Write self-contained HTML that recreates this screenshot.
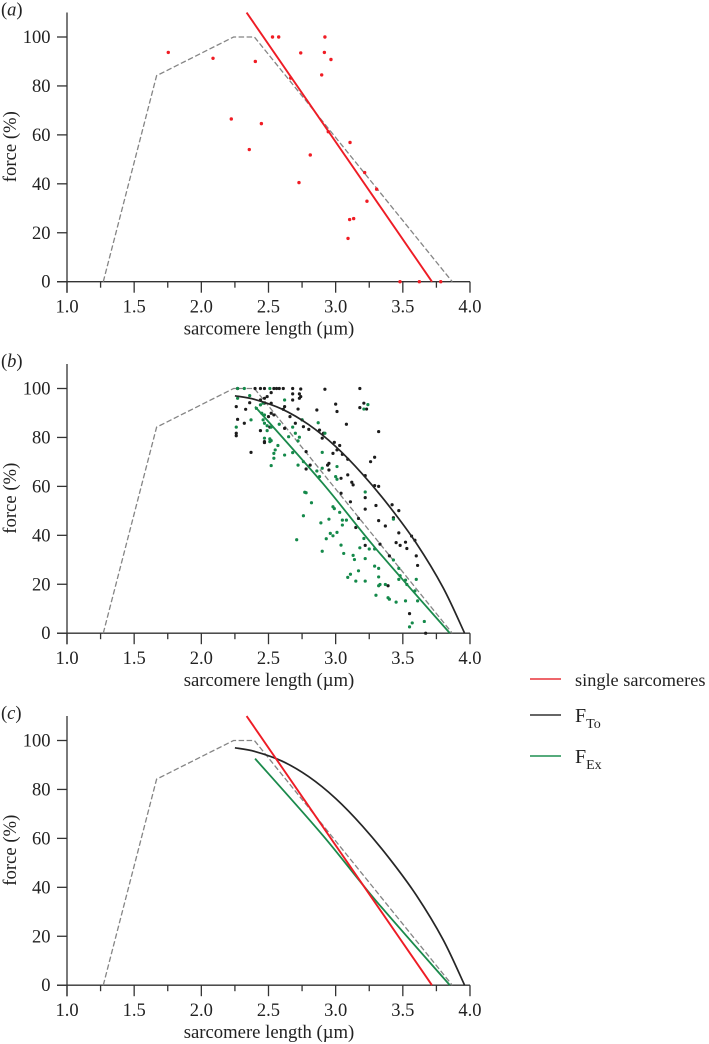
<!DOCTYPE html>
<html lang="en">
<head>
<meta charset="utf-8">
<title>Force versus sarcomere length</title>
<style>
html,body{margin:0;padding:0;background:#fff;}
body{width:709px;height:1044px;overflow:hidden;}
svg{display:block;}
text{font-family:"Liberation Serif",serif;fill:#222;}
</style>
</head>
<body>
<svg id="chart" xmlns="http://www.w3.org/2000/svg" width="709" height="1044" viewBox="0 0 709 1044">
  <g>
    <line x1="530" x2="561" y1="679" y2="679" stroke="#e8343a" stroke-width="1.4"/>
    <text x="575" y="686" font-size="18.3">single sarcomeres</text>
    <line x1="530" x2="561" y1="715" y2="715" stroke="#333" stroke-width="1.4"/>
    <text x="575" y="722" font-size="20">F<tspan font-size="14" dy="6">To</tspan></text>
    <line x1="530" x2="561" y1="756" y2="756" stroke="#1f8f50" stroke-width="1.4"/>
    <text x="575" y="763" font-size="20">F<tspan font-size="14" dy="6">Ex</tspan></text>
  </g>
</svg>
<script>
// ---- chart data ----
const xTicks = [1.0, 1.5, 2.0, 2.5, 3.0, 3.5, 4.0];
const xMinorTicks = [1.25, 1.75, 2.25, 2.75, 3.25, 3.75];
const yTicks = [0, 20, 40, 60, 80, 100];
const panelLetters = ['a', 'b', 'c'];

const modelX = [1.27, 1.667, 2.24, 2.395, 3.868];
const modelY = [0, 84.2, 100, 100, 0];

const singleLineX = [2.337, 3.717];
const singleLineY = [110, 0];

const ftoX = [2.25, 2.4, 2.6, 2.8, 3.0, 3.2, 3.4, 3.6, 3.8, 3.96];
const ftoY = [97, 95.5, 91.6, 85.2, 76.3, 65, 51.8, 36.8, 18.6, 0];

const fexX = [2.4, 2.9, 3.3, 3.85];
const fexY = [92.6, 61.5, 34.5, 0];

const redX = [1.754,2.087,2.402,2.223,2.447,2.357,2.53,2.576,2.92,2.74,2.916,2.965,2.896,2.665,3.107,2.811,2.727,3.216,3.305,3.233,3.104,3.134,3.092,3.479,3.623,3.782,2.945];
const redY = [93.7,91.3,90,66.5,64.6,54,100,100,100,93.5,93.7,90.8,84.5,83.2,56.9,51.8,40.5,44.6,37.8,32.9,25.4,25.8,17.7,0,0,0,61.3];

const blackX = [2.27,2.40,2.44,2.47,2.54,2.56,2.58,2.61,2.68,2.74,2.92,2.68,2.73,2.74,2.52,2.49,2.47,2.68,2.73,2.26,2.33,2.36,2.44,2.47,2.52,2.62,2.61,2.72,2.86,3.00,3.01,2.50,2.54,2.52,2.27,2.32,2.44,2.51,2.62,2.66,2.70,2.75,2.76,2.80,2.88,2.91,2.90,3.08,2.26,2.26,2.37,2.47,2.47,2.99,3.03,3.01,2.98,3.09,2.78,2.78,2.81,2.95,2.94,2.95,3.04,3.09,3.04,3.18,3.21,3.18,3.23,3.32,3.05,3.29,3.26,3.22,3.12,3.13,3.29,3.32,3.22,3.11,3.30,3.22,3.42,3.47,3.43,3.32,3.37,3.17,3.15,3.47,3.565,3.59,3.33,3.22,3.45,3.48,3.52,3.53,3.40,3.60,3.61,3.39,3.55,3.67];
const blackY = [100,100,100,100,100,100,100,100,100,99.8,99.7,97.8,97.8,96.7,98.3,96.7,96,95.3,96,92.6,91.5,94.2,95.3,94,94,92.6,91.5,91.6,91.2,93.6,90.6,88.5,89.2,89.9,87.4,85.8,82.8,84.2,83.7,88.5,85.8,87.2,84.4,83.3,83,81.7,79.7,85.4,81.7,80.7,73.9,78.3,77.9,78,76.7,74.9,73.5,71.1,74.2,67.1,68.7,69.4,68.7,66.7,63.3,64.7,57.2,100,94,92.2,91.6,82.4,73.1,71.9,70.1,64.4,61.7,60.6,60.3,60,55.4,53.7,52.2,50.7,52.5,50.1,47.2,46,43.8,46.9,43.2,41,39.7,38,36.4,35.9,37,35.9,37.2,34.6,31.6,31.6,27.7,19.4,8,0];

const greenX = [3.03,3.05,3.08,3.05,3.21,3.18,3.25,3.29,3.04,3.06,3.13,3.14,3.22,3.29,3.32,3.17,3.11,3.09,3.15,3.22,3.32,3.33,3.32,3.37,3.48,3.47,3.52,3.60,3.53,3.59,3.30,3.39,3.40,3.45,3.52,3.61,3.66,3.57,3.55,3.43,3.43,3.47,2.82,2.76,2.98,2.99,2.95,2.89,3.01,2.96,2.98,2.93,2.71,2.90,2.27,2.32,2.51,2.27,2.36,2.62,2.44,2.46,2.41,2.45,2.47,2.46,2.37,2.47,2.49,2.52,2.49,2.58,2.68,2.75,2.26,2.70,2.65,2.73,2.72,2.87,2.92,2.47,2.51,2.52,2.51,2.57,2.55,2.54,2.54,2.62,2.52,2.68,2.90,2.76,2.72,3.01,2.86,2.90,3.00,3.01,2.88,2.77,2.78,3.24,3.21,3.22];
const greenY = [49.4,46.2,46.2,44.2,38.7,34.9,34.4,34.4,36,32.6,31.8,30.1,30.5,27.4,26.5,25.5,24.1,22.8,21.3,21.3,23,19.9,19.4,19.9,23.5,22,21.7,22,19.9,17.3,15.5,14.5,13.9,12.7,13.2,13.2,4.8,4.2,2.6,46.6,29.9,26.5,53.3,48,51.7,50.9,46.6,45.1,41.2,40.8,39.8,38.6,38.2,33.5,100,100,100,96,97.1,95.3,93.3,94,91.9,89.9,89.2,87.2,87.2,85.8,84.8,84.2,82.8,85.4,84.2,87.2,84.2,81.7,80.3,80.1,78.6,86,81.7,79.7,79.4,78.7,78.3,76.7,74.9,73.5,71.5,72.8,68.5,73.8,73.9,70.1,68.7,68.1,66.3,67.4,64,62.9,64,57.6,57.4,93.4,91.6,57.7];

// ---- drawing ----
const SVG_NS = 'http://www.w3.org/2000/svg';
const svg = document.getElementById('chart');

function make(parent, tag, attrs, text) {
  const el = document.createElementNS(SVG_NS, tag);
  for (const k in attrs) el.setAttribute(k, attrs[k]);
  if (text !== undefined) el.textContent = text;
  parent.appendChild(el);
  return el;
}

function xScale(v) { return 67 + (v - 1) * 134.33; }
function polyPath(xs, ys, sy) {
  return xs.map((x, i) => (i ? 'L' : 'M') + xScale(x).toFixed(2) + ' ' + sy(ys[i]).toFixed(2)).join(' ');
}
function smoothPath(xs, ys, sy) {
  const p = xs.map((x, i) => [xScale(x), sy(ys[i])]);
  let d = 'M' + p[0][0].toFixed(2) + ' ' + p[0][1].toFixed(2);
  for (let i = 0; i < p.length - 1; i++) {
    const a = p[Math.max(i - 1, 0)], b = p[i], c = p[i + 1], e = p[Math.min(i + 2, p.length - 1)];
    d += ' C' + (b[0] + (c[0] - a[0]) / 6).toFixed(2) + ' ' + (b[1] + (c[1] - a[1]) / 6).toFixed(2) +
         ' ' + (c[0] - (e[0] - b[0]) / 6).toFixed(2) + ' ' + (c[1] - (e[1] - b[1]) / 6).toFixed(2) +
         ' ' + c[0].toFixed(2) + ' ' + c[1].toFixed(2);
  }
  return d;
}

function drawDots(g, xs, ys, sy, color, r, name) {
  xs.forEach((x, i) => {
    const c = make(g, 'circle', { cx: xScale(x).toFixed(2), cy: sy(ys[i]).toFixed(2), r: r, fill: color });
    
    
  });
}

function drawPanel(letter, y0, opts) {
  const sy = v => y0 - v * 2.447;
  const g = make(svg, 'g', {});
  
  

  const label = make(g, 'text', { x: 1, y: y0 - 266, 'font-size': 18.5 });
  
  
  make(label, 'tspan', {}, '(');
  make(label, 'tspan', { 'font-style': 'italic' }, letter);
  make(label, 'tspan', {}, ')');

  const axisStyle = { stroke: '#333', 'stroke-width': 1.3, fill: 'none' };
  const yAxis = make(g, 'line', Object.assign({ x1: 67, x2: 67, y1: sy(110), y2: y0 + 11 }, axisStyle));
  
  
  const xAxis = make(g, 'line', Object.assign({ x1: 57, x2: xScale(4), y1: y0, y2: y0 }, axisStyle));
  
  

  yTicks.forEach(v => {
    const t = make(g, 'line', Object.assign({ x1: 57, x2: 67, y1: sy(v), y2: sy(v) }, axisStyle));
    
    
    const l = make(g, 'text', { x: 50.5, y: sy(v) + 6, 'font-size': 18.5, 'text-anchor': 'end' }, String(v));
    
    
  });
  xTicks.forEach(v => {
    const t = make(g, 'line', Object.assign({ x1: xScale(v), x2: xScale(v), y1: y0, y2: y0 + 11 }, axisStyle));
    
    
    const l = make(g, 'text', { x: xScale(v), y: y0 + 31, 'font-size': 18.5, 'text-anchor': 'middle' }, v.toFixed(1));
    
    
  });
  xMinorTicks.forEach(v => {
    const t = make(g, 'line', Object.assign({ x1: xScale(v), x2: xScale(v), y1: y0, y2: y0 + 6 }, axisStyle));
    
    
  });

  const xTitle = make(g, 'text', { x: 269, y: y0 + 53, 'font-size': 18.7, 'text-anchor': 'middle' }, 'sarcomere length (\u00b5m)');
  
  
  const yc = y0 - 135;
  const yTitle = make(g, 'text', { x: 16, y: yc, 'font-size': 18.7, 'text-anchor': 'middle', transform: 'rotate(-90 16 ' + yc + ')' }, 'force (%)');
  
  

  const model = make(g, 'path', { d: polyPath(modelX, modelY, sy), fill: 'none', stroke: '#858585', 'stroke-width': 1.3, 'stroke-dasharray': '5.5 2.5' });
  
  

  if (opts.red) drawDots(g, redX, redY, sy, '#f01c24', 1.7, 'single-sarcomere-point');
  if (opts.scatter) {
    drawDots(g, blackX, blackY, sy, '#1c1c1c', 1.6, 'fto-point');
    drawDots(g, greenX, greenY, sy, '#14894a', 1.6, 'fex-point');
  }
  if (opts.fto) {
    const p = make(g, 'path', { d: smoothPath(ftoX, ftoY, sy), fill: 'none', stroke: '#262626', 'stroke-width': 1.7 });
    
    
  }
  if (opts.fex) {
    const p = make(g, 'path', { d: smoothPath(fexX, fexY, sy), fill: 'none', stroke: '#1b8a4c', 'stroke-width': 1.8 });
    
    
  }
  if (opts.single) {
    const p = make(g, 'path', { d: polyPath(singleLineX, singleLineY, sy), fill: 'none', stroke: '#ee1c25', 'stroke-width': 1.9 });
    
    
  }
}

drawPanel(panelLetters[0], 281.7, { red: true, single: true });
drawPanel(panelLetters[1], 633.2, { scatter: true, fto: true, fex: true });
drawPanel(panelLetters[2], 985.2, { fto: true, fex: true, single: true });
</script>
</body>
</html>
